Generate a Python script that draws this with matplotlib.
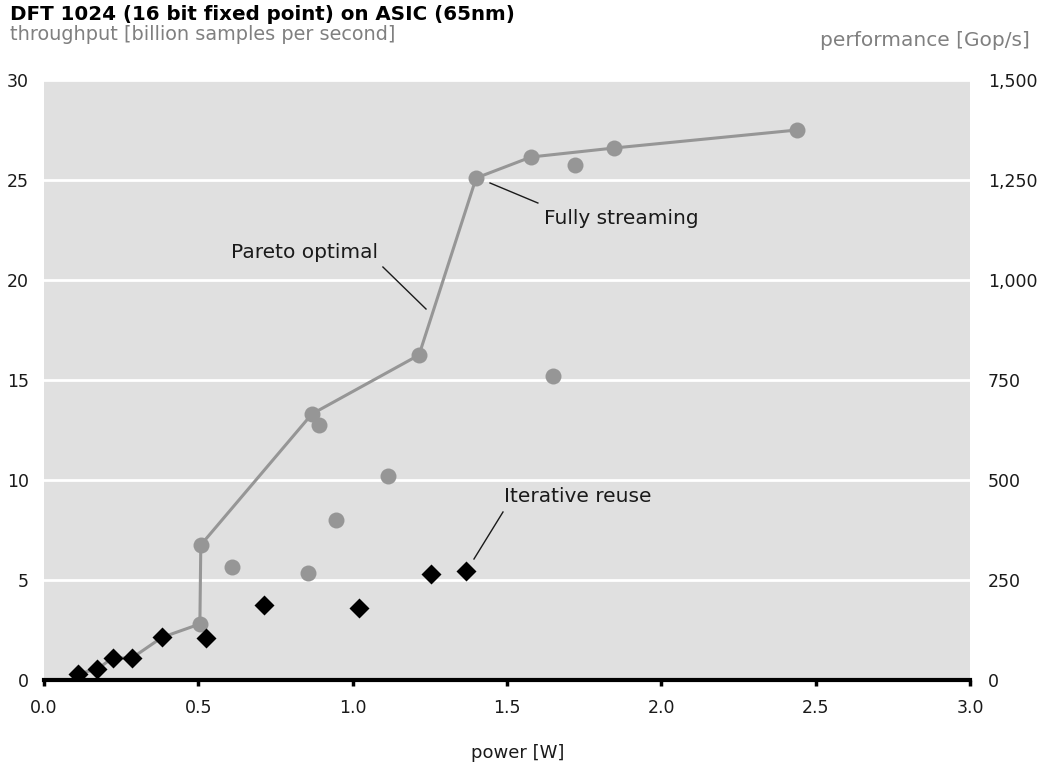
import matplotlib
matplotlib.use("Agg")
import matplotlib.pyplot as plt
from matplotlib.ticker import FuncFormatter

plt.rcParams['font.family'] = ['DejaVu Sans']

# Design points: power [W] vs throughput [billion samples/s]
stream_power = [0.508, 0.609, 0.868, 0.891, 0.855, 0.946, 1.114, 1.215, 1.40, 1.578, 1.719, 1.847, 1.649, 2.44]
stream_tput = [6.75, 5.65, 13.3, 12.75, 5.35, 8.0, 10.2, 16.25, 25.1, 26.15, 25.75, 26.6, 15.2, 27.5]

extra_power = [0.505]
extra_tput = [2.8]

iter_power = [0.109, 0.173, 0.222, 0.285, 0.382, 0.525, 0.713, 1.022, 1.253, 1.367]
iter_tput = [0.3, 0.55, 1.1, 1.1, 2.13, 2.1, 3.77, 3.62, 5.3, 5.45]

pareto_power = [0.109, 0.173, 0.222, 0.285, 0.382, 0.505, 0.508, 0.868, 1.215, 1.40, 1.578, 1.847, 2.44]
pareto_tput = [0.3, 0.55, 1.1, 1.1, 2.13, 2.8, 6.75, 13.3, 16.25, 25.1, 26.15, 26.6, 27.5]

left_ticks = [0, 5, 10, 15, 20, 25, 30]
right_ticks = [0, 250, 500, 750, 1000, 1250, 1500]
x_ticks = [0.0, 0.5, 1.0, 1.5, 2.0, 2.5, 3.0]

GRAY = '#969696'
BG = '#e0e0e0'
INK = '#1a1a1a'

fig = plt.figure(figsize=(10.44, 7.67), dpi=100)
ax = fig.add_axes([44/1044, 1-680/767, 926/1044, 600/767])
ax.set_facecolor(BG)
ax.set_xlim(0, 3)
ax.set_ylim(0, 30)

ax.plot(pareto_power, pareto_tput, color=GRAY, lw=2.2, zorder=2)
ax.plot(stream_power + extra_power, stream_tput + extra_tput, 'o', color=GRAY, ms=11.5, mec='none', zorder=3)
ax.plot(iter_power, iter_tput, 'D', color='black', ms=10, mec='none', zorder=4)

ax.set_yticks(left_ticks)
ax.set_xticks(x_ticks)
ax.xaxis.set_major_formatter(FuncFormatter(lambda v, p: f"{v:.1f}"))
ax.grid(axis='y', color='white', lw=2)
ax.set_axisbelow(True)
for s in ['left', 'right', 'top']:
    ax.spines[s].set_visible(False)
ax.spines['bottom'].set_linewidth(3)
ax.spines['bottom'].set_color('black')
ax.tick_params(axis='y', length=0, labelsize=12.5, pad=11, colors=INK)
ax.tick_params(axis='x', length=4, width=2.5, direction='out', labelsize=12.5, pad=10,
               colors='black', labelcolor=INK)
ax.set_xlabel('power [W]', fontsize=13, color=INK, va='center')
ax.xaxis.set_label_coords((518 - 44) / 926, (680 - 753) / 600)

ax2 = ax.twinx()
ax2.set_ylim(0, 1500)
ax2.set_yticks(right_ticks)
ax2.yaxis.set_major_formatter(FuncFormatter(lambda v, p: f"{int(v):,}"))
ax2.tick_params(axis='y', length=0, labelsize=12.5, pad=13, colors=INK)
for s in ['left', 'right', 'top', 'bottom']:
    ax2.spines[s].set_visible(False)

# Annotations
ax.text(1.082, 21.35, 'Pareto optimal', fontsize=14.5, ha='right', va='center', color=INK)
ax.plot([1.098, 1.2376], [20.65, 18.55], color=INK, lw=1)
ax.text(1.62, 23.1, 'Fully streaming', fontsize=14.5, ha='left', va='center', color=INK)
ax.plot([1.445, 1.600], [24.85, 23.85], color=INK, lw=1)
ax.text(1.49, 9.2, 'Iterative reuse', fontsize=14.5, ha='left', va='center', color=INK)
ax.plot([1.487, 1.393], [8.4, 6.05], color=INK, lw=1)

fig.text(10/1044, 1-14/767, 'DFT 1024 (16 bit fixed point) on ASIC (65nm)', fontsize=14.3,
         fontweight='bold', va='center', ha='left', color='black')
fig.text(10/1044, 1-35/767, 'throughput [billion samples per second]', fontsize=13.9,
         color='#808080', va='center', ha='left')
fig.text(1030/1044, 1-41/767, 'performance [Gop/s]', fontsize=14.5, color='#808080',
         va='center', ha='right')

fig.savefig('out.png', dpi=100)
